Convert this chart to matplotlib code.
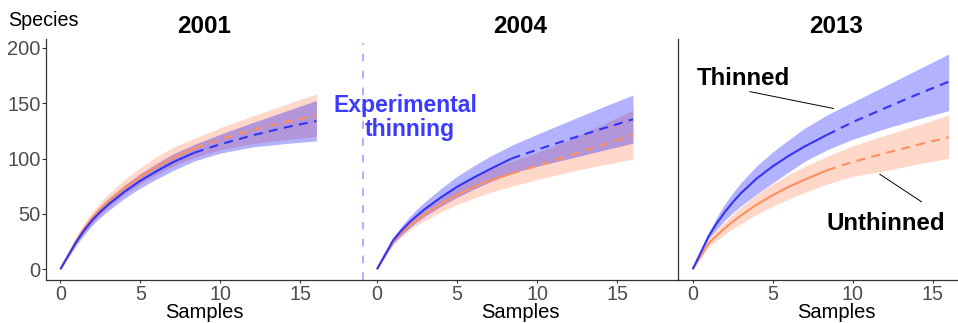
import matplotlib
matplotlib.use("Agg")
import matplotlib.pyplot as plt

plt.rcParams["font.family"] = ["Liberation Sans", "DejaVu Sans"]

# Rarefaction / extrapolation of species richness by number of samples
SAMPLES = [0, 1, 1.5, 2, 2.5, 3, 4, 5, 6, 7, 8.4, 10, 12, 14, 16]
OBSERVED = 8.4  # reference sample size: interpolation (solid) vs extrapolation (dashed)

YEARS = ["2001", "2004", "2013"]

# Thinned plots (mean and 95% interval)
THIN_2001 = [0, 25, 35.5, 44.5, 52, 58.5, 70, 80, 88.5, 96.5, 105.5, 113, 121, 128, 134]
THIN_2001_LO = [0, 22, 31.5, 40, 47, 53, 64, 73.5, 81.5, 89, 98, 105, 110.5, 113.5, 116]
THIN_2001_HI = [0, 28, 39.5, 49, 57, 64, 76, 86.5, 95.5, 104, 113, 122, 132.5, 142.5, 152.5]

THIN_2004 = [0, 26, 34.5, 42, 48.5, 54.5, 65, 74.5, 82.5, 90, 100, 108, 117.5, 126.7, 135.5]
THIN_2004_LO = [0, 23, 30.5, 37, 43, 48, 57, 65, 72, 78.5, 87, 93, 100, 107, 114]
THIN_2004_HI = [0, 29, 38.5, 47, 54.5, 61, 73, 84, 93, 101.5, 112, 122, 134, 146, 157.5]

THIN_2013 = [0, 30, 41.5, 51.5, 60.5, 68.5, 82, 93, 102.5, 111, 121.5, 133, 145.5, 157.8, 169.5]
THIN_2013_LO = [0, 27.5, 36, 44, 51, 57, 68, 78, 88, 97.5, 108, 117.5, 127, 135.5, 143.3]
THIN_2013_HI = [0, 33, 47, 59, 69, 78, 93.5, 106, 117, 127.5, 139.5, 151, 165.5, 180, 194.5]

# Unthinned plots (mean and 95% interval)
UNTH_2001 = [0, 26, 37, 46.5, 54.5, 61.5, 73.5, 83.5, 92.5, 100.5, 109.5, 117.5, 126, 133, 139]
UNTH_2001_LO = [0, 23, 33, 42, 49.5, 56, 67.5, 77, 85.5, 93, 101, 108, 113.5, 117, 120]
UNTH_2001_HI = [0, 30, 42, 52, 60.5, 68, 81, 92, 101.5, 110, 118.5, 128, 138.5, 148.5, 158.5]

UNTH_2004 = [0, 25, 32.5, 39, 45, 50, 59, 67, 74, 80, 86.5, 93.5, 102.5, 112, 121.3]
UNTH_2004_LO = [0, 22, 29, 35, 40, 44, 52, 58.5, 64, 69, 75, 81, 88, 94, 99.5]
UNTH_2004_HI = [0, 28, 36.5, 43.5, 50, 56, 66, 75, 83, 90, 97.5, 105.5, 117, 130, 144]

UNTH_2013 = [0, 23.5, 30.5, 37, 43, 48.5, 58.5, 67, 74.5, 81, 89.5, 97, 104.8, 112.3, 119.3]
UNTH_2013_LO = [0, 20.5, 26, 31.5, 36.5, 41, 49.5, 57, 63.5, 69.5, 77, 84, 89, 95, 100.3]
UNTH_2013_HI = [0, 26.5, 35, 42.5, 49.5, 56, 67.5, 77, 85.5, 93, 102, 111.5, 121, 130, 139.4]

THIN = [(THIN_2001, THIN_2001_LO, THIN_2001_HI),
        (THIN_2004, THIN_2004_LO, THIN_2004_HI),
        (THIN_2013, THIN_2013_LO, THIN_2013_HI)]
UNTH = [(UNTH_2001, UNTH_2001_LO, UNTH_2001_HI),
        (UNTH_2004, UNTH_2004_LO, UNTH_2004_HI),
        (UNTH_2013, UNTH_2013_LO, UNTH_2013_HI)]

X_TICKS = [0, 5, 10, 15]
Y_TICKS = [0, 50, 100, 150, 200]

BLUE_LINE = "#3434F4"
BLUE_FILL = "#0000FF"
ORANGE_LINE = "#FF8F5E"
ORANGE_FILL = "#FF7F50"
AXIS_COL = "#333333"
TICK_COL = "#4D4D4D"

W, H = 958, 323
fig = plt.figure(figsize=(W / 100, H / 100), dpi=100)

XLIM = (-0.9, 18.85)
YLIM = (-9.7, 207.8)
bottom = (H - 280) / H
height = (280 - 39.3) / H
width = 316 / W
lefts = [46 / W, 362.6 / W, 678.3 / W]

k = SAMPLES.index(OBSERVED)

axes = []
for i, (year, left) in enumerate(zip(YEARS, lefts)):
    ax = fig.add_axes([left, bottom, width, height])
    ax.set_xlim(*XLIM)
    ax.set_ylim(*YLIM)
    ax.patch.set_visible(False)
    for s in ("top", "right"):
        ax.spines[s].set_visible(False)
    for s in ("left", "bottom"):
        ax.spines[s].set_color(AXIS_COL)
        ax.spines[s].set_linewidth(0.9)
    if i == 1:
        ax.spines["left"].set_visible(False)

    um, ul, uh = UNTH[i]
    tm, tl, th = THIN[i]
    ax.fill_between(SAMPLES, ul, uh, color=ORANGE_FILL, alpha=0.3, lw=0)
    ax.fill_between(SAMPLES, tl, th, color=BLUE_FILL, alpha=0.3, lw=0)
    for mean, col in ((um, ORANGE_LINE), (tm, BLUE_LINE)):
        ax.plot(SAMPLES[:k + 1], mean[:k + 1], color=col, lw=1.5,
                solid_capstyle="butt", solid_joinstyle="round")
        ax.plot(SAMPLES[k:], mean[k:], color=col, lw=1.5,
                dashes=(4.3, 3.1), dash_capstyle="butt")

    ax.set_xticks(X_TICKS)
    ax.set_xticklabels([str(t) for t in X_TICKS])
    ax.tick_params(axis="x", length=2.5, width=0.8, color=AXIS_COL,
                   labelsize=14.2, labelcolor=TICK_COL, pad=0.8)
    if i == 0:
        ax.set_yticks(Y_TICKS)
        ax.set_yticklabels([str(t) for t in Y_TICKS])
        ax.tick_params(axis="y", length=3, width=0.8, color=AXIS_COL,
                       labelsize=14.5, labelcolor=TICK_COL, pad=1)
    else:
        ax.set_yticks([])

    ax.set_title(year, fontsize=17.5, fontweight="bold", pad=4.3)
    axes.append(ax)

    cx = left + width / 2
    fig.text(cx, (H - 318.5) / H, "Samples", fontsize=14.5,
             ha="center", va="baseline")

fig.text(8.3 / W, (H - 25.6) / H, "Species", fontsize=14.2,
         ha="left", va="baseline")

# Thinning treatment marker at the start of the 2004 panel
ax2 = axes[1]
ax2.plot([XLIM[0], XLIM[0]], [YLIM[0], 204.2], color="#9999FF", lw=1.1,
         dashes=(5, 6), clip_on=False)
ax2.text(1.79, 142.4, "Experimental", color="#3B3BFF", fontsize=16.6,
         fontweight="bold", ha="center", va="baseline")
ax2.text(2.05, 120.4, "thinning", color="#3B3BFF", fontsize=16.6,
         fontweight="bold", ha="center", va="baseline")

# Treatment labels in the 2013 panel
ax3 = axes[2]
ax3.text(3.16, 166.5, "Thinned", fontsize=17.3, fontweight="bold",
         ha="center", va="baseline")
ax3.plot([3.58, 8.79], [160.5, 145.3], color="black", lw=0.7)
ax3.text(12.07, 35.5, "Unthinned", fontsize=17.3, fontweight="bold",
         ha="center", va="baseline")
ax3.plot([11.7, 14.3], [85.8, 61], color="black", lw=0.7)

fig.savefig("out.png", dpi=100)
